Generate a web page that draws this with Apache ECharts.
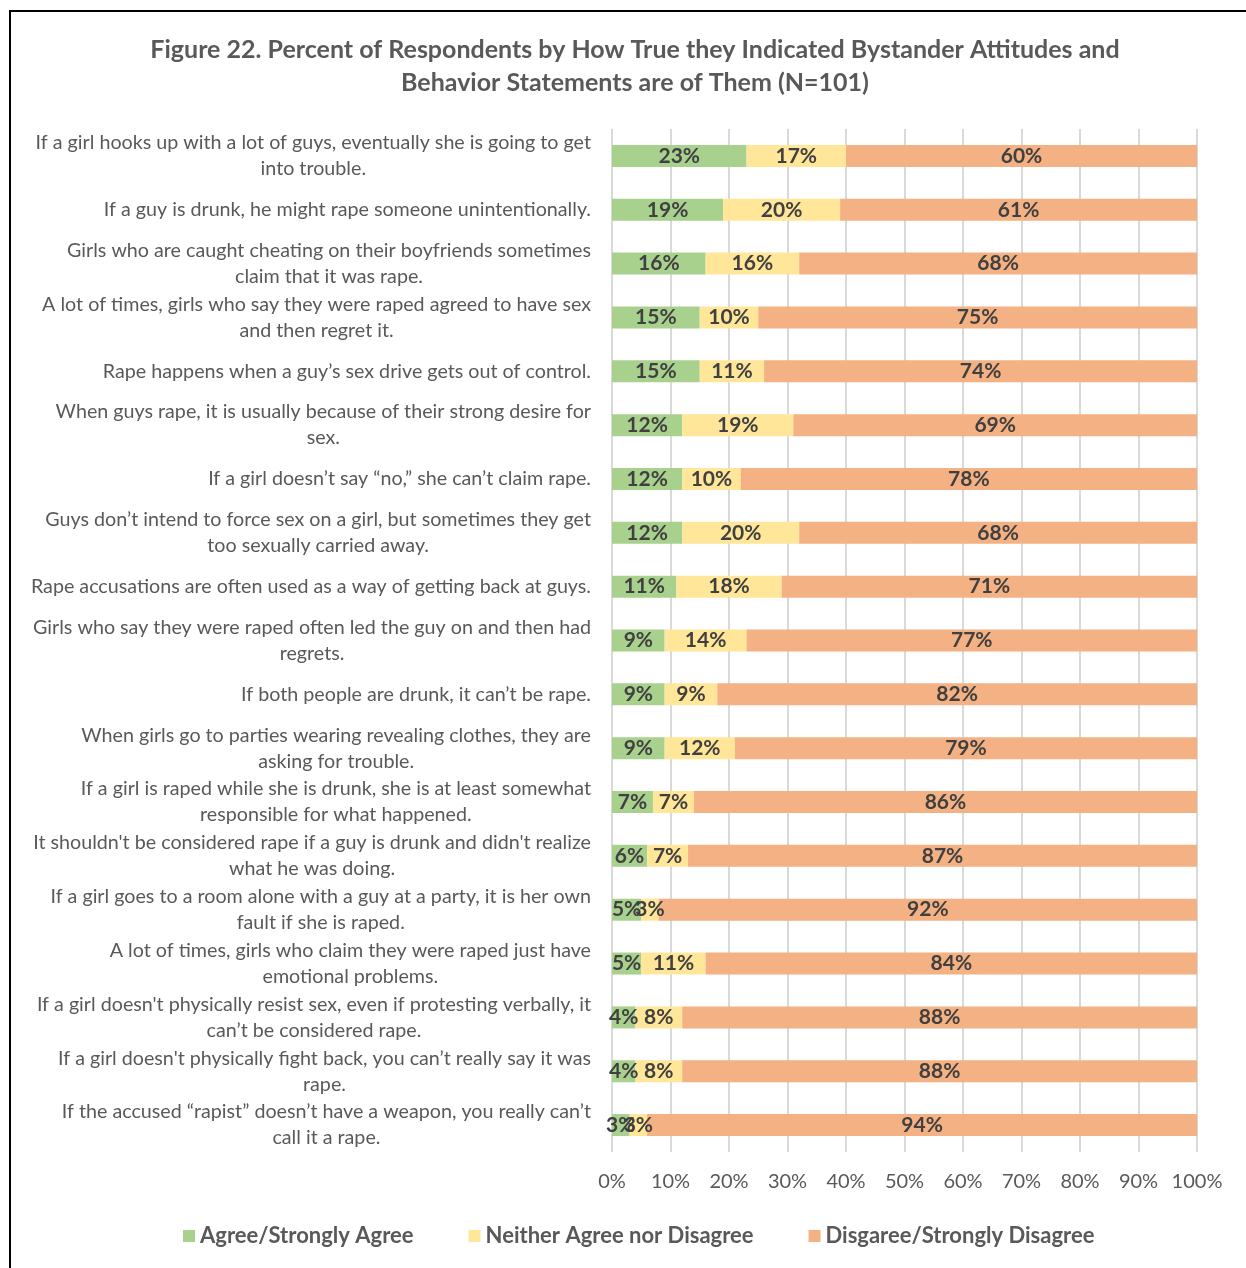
<!DOCTYPE html>
<html>
<head>
<meta charset="utf-8">
<script src="https://cdn.jsdelivr.net/npm/echarts@6/dist/echarts.min.js"></script>
<style>
  html, body { margin: 0; padding: 0; background: #fff; }
  #chart { width: 1246px; height: 1268px; }
  .frame { position: absolute; left: 9px; top: 10px; width: 1400px; height: 1400px;
           border-left: 2px solid #000; border-top: 2px solid #000; pointer-events: none; }
</style>
</head>
<body>
<div id="chart"></div>
<div class="frame"></div>
<script>
// statements, top to bottom
const statements = [
    'If a girl hooks up with a lot of guys, eventually she is going to get\ninto trouble.',
    'If a guy is drunk, he might rape someone unintentionally.',
    'Girls who are caught cheating on their boyfriends sometimes\nclaim that it was rape.',
    'A lot of times, girls who say they were raped agreed to have sex\nand then regret it.',
    'Rape happens when a guy’s sex drive gets out of control.',
    'When guys rape, it is usually because of their strong desire for\nsex.',
    'If a girl doesn’t say “no,” she can’t claim rape.',
    'Guys don’t intend to force sex on a girl, but sometimes they get\ntoo sexually carried away.',
    'Rape accusations are often used as a way of getting back at guys.',
    'Girls who say they were raped often led the guy on and then had\nregrets.',
    'If both people are drunk, it can’t be rape.',
    'When girls go to parties wearing revealing clothes, they are\nasking for trouble.',
    'If a girl is raped while she is drunk, she is at least somewhat\nresponsible for what happened.',
    'It shouldn\'t be considered rape if a guy is drunk and didn\'t realize\nwhat he was doing.',
    'If a girl goes to a room alone with a guy at a party, it is her own\nfault if she is raped.',
    'A lot of times, girls who claim they were raped just have\nemotional problems.',
    'If a girl doesn\'t physically resist sex, even if protesting verbally, it\ncan’t be considered rape.',
    'If a girl doesn\'t physically fight back, you can’t really say it was\nrape.',
    'If the accused “rapist” doesn’t have a weapon, you really can’t\ncall it a rape.'
];

const agree    = [23, 19, 16, 15, 15, 12, 12, 12, 11, 9, 9, 9, 7, 6, 5, 5, 4, 4, 3];
const neither  = [17, 20, 16, 10, 11, 19, 10, 20, 18, 14, 9, 12, 7, 7, 3, 11, 8, 8, 3];
const disagree = [60, 61, 68, 75, 74, 69, 78, 68, 71, 77, 82, 79, 86, 87, 92, 84, 88, 88, 94];

const seriesNames = ['Agree/Strongly Agree', 'Neither Agree nor Disagree', 'Disgaree/Strongly Disagree'];
const colors = ['#A9D18E', '#FFE699', '#F4B183'];

const font = 'Lato, "Open Sans", sans-serif';

const chart = echarts.init(document.getElementById('chart'));

function makeSeries(name, data, color) {
    return {
        name: name,
        type: 'bar',
        stack: 'all',
        barWidth: 22,
        data: data,
        itemStyle: { color: color },
        label: {
            show: true,
            position: 'inside',
            formatter: '{c}%',
            color: '#404040',
            fontFamily: font,
            fontWeight: 'bold',
            fontSize: 21
        }
    };
}

const option = {
    animation: false,
    backgroundColor: '#fff',
    color: colors,
    title: {
        text: 'Figure 22. Percent of Respondents by How True they Indicated Bystander Attitudes and\nBehavior Statements are of Them (N=101)',
        left: 630,
        textAlign: 'center',
        top: 28,
        textStyle: {
            fontFamily: font,
            fontWeight: 'bold',
            fontSize: 25,
            lineHeight: 33,
            color: '#595959'
        }
    },
    legend: {
        bottom: 16,
        left: 178,
        icon: 'rect',
        itemWidth: 12,
        itemHeight: 12,
        itemGap: 55,
        textStyle: {
            fontFamily: font,
            fontWeight: 'bold',
            fontSize: 22,
            color: '#595959'
        },
        data: seriesNames
    },
    grid: {
        left: 612,
        right: 49,
        top: 129,
        bottom: 116
    },
    xAxis: {
        type: 'value',
        min: 0,
        max: 100,
        interval: 10,
        axisLine: { show: false },
        axisTick: { show: false },
        splitLine: { lineStyle: { color: '#d9d9d9', width: 2 } },
        axisLabel: {
            formatter: '{value}%',
            margin: 20,
            fontFamily: font,
            fontSize: 20,
            color: '#595959'
        }
    },
    yAxis: {
        type: 'category',
        inverse: true,
        data: statements,
        axisLine: { show: false },
        axisTick: { show: false },
        axisLabel: {
            interval: 0,
            margin: 21,
            align: 'right',
            formatter: function (v) {
                return v.split('\n').map(l => '{c|' + l + '}').join('\n');
            },
            rich: {
                c: {
                    align: 'center',
                    fontFamily: font,
                    fontSize: 19.7,
                    lineHeight: 26,
                    color: '#595959'
                }
            }
        }
    },
    series: [
        makeSeries(seriesNames[0], agree, colors[0]),
        makeSeries(seriesNames[1], neither, colors[1]),
        makeSeries(seriesNames[2], disagree, colors[2])
    ]
};

chart.setOption(option);
</script>
</body>
</html>
